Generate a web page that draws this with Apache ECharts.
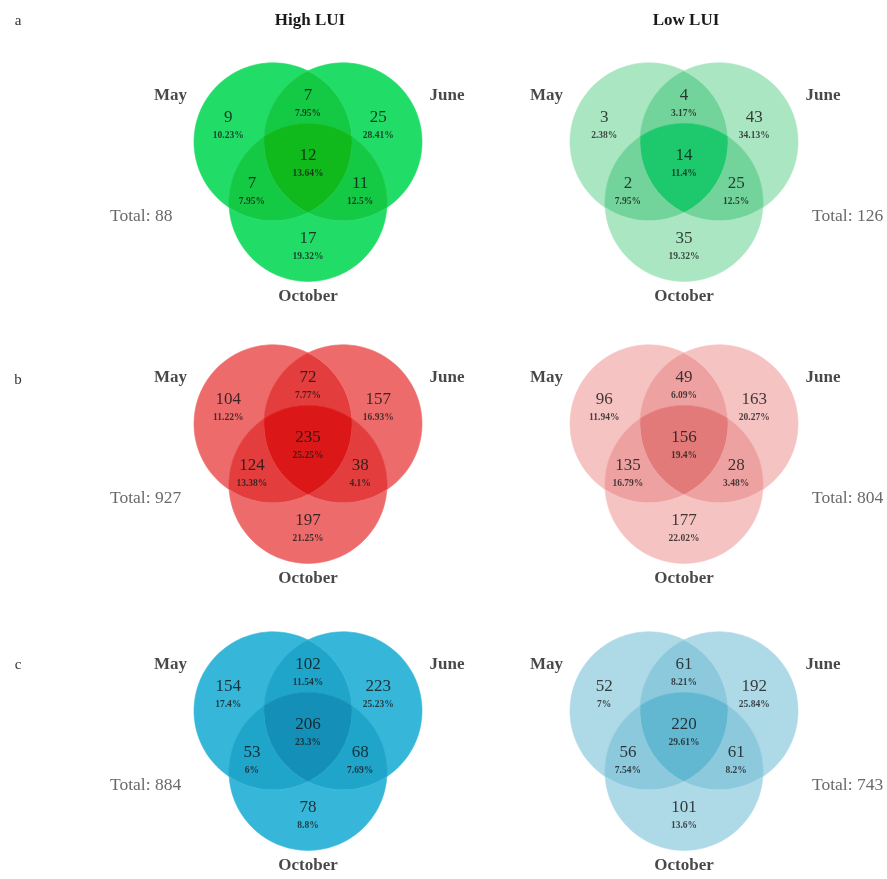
<!DOCTYPE html>
<html>
<head>
<meta charset="utf-8">
<script src="https://cdn.jsdelivr.net/npm/echarts@6/dist/echarts.min.js"></script>
<style>
  html, body { margin: 0; padding: 0; background: #ffffff; }
  #chart { width: 887px; height: 879px; }
</style>
</head>
<body>
<div id="chart"></div>
<script>
// Three-way overlap of taxa between sampling months, for high and low land-use intensity.
const setNames = ['May', 'June', 'October'];
// Region order: May only, May∩June, June only, all three, May∩October, June∩October, October only
const regionNames = ['May', 'May ∩ June', 'June', 'May ∩ June ∩ October', 'May ∩ October', 'June ∩ October', 'October'];
const regionMembership = [[1, 0, 0], [1, 1, 0], [0, 1, 0], [1, 1, 1], [1, 0, 1], [0, 1, 1], [0, 0, 1]];

const highA = [9, 7, 25, 12, 7, 11, 17];
const highAPct = ['10.23%', '7.95%', '28.41%', '13.64%', '7.95%', '12.5%', '19.32%'];
const lowA = [3, 4, 43, 14, 2, 25, 35];
const lowAPct = ['2.38%', '3.17%', '34.13%', '11.4%', '7.95%', '12.5%', '19.32%'];

const highB = [104, 72, 157, 235, 124, 38, 197];
const highBPct = ['11.22%', '7.77%', '16.93%', '25.25%', '13.38%', '4.1%', '21.25%'];
const lowB = [96, 49, 163, 156, 135, 28, 177];
const lowBPct = ['11.94%', '6.09%', '20.27%', '19.4%', '16.79%', '3.48%', '22.02%'];

const highC = [154, 102, 223, 206, 53, 68, 78];
const highCPct = ['17.4%', '11.54%', '25.23%', '23.3%', '6%', '7.69%', '8.8%'];
const lowC = [52, 61, 192, 220, 56, 61, 101];
const lowCPct = ['7%', '8.21%', '25.84%', '29.61%', '7.54%', '8.2%', '13.6%'];

const columnTitles = ['High LUI', 'Low LUI'];
const rowLetters = ['a', 'b', 'c'];

// ---- styling ----
const SERIF = '"Liberation Serif", "DejaVu Serif", serif';
// fill shades for regions covered by one, two and three sets
const palettes = {
  greenHigh: ['#22dc68', '#14c944', '#10b91c'],
  greenLow:  ['#a9e6c1', '#72d49a', '#1ec96e'],
  redHigh:   ['#ee6b6b', '#e33d3d', '#dc1717'],
  redLow:    ['#f6c3c3', '#eea1a1', '#e37a7a'],
  blueHigh:  ['#36b7d9', '#1fa4ca', '#138fb8'],
  blueLow:   ['#aed9e7', '#8cc9dd', '#63b8d1']
};

// ---- layout (in units of circle radius, y pointing up) ----
const PX = 79;                          // pixels per radius unit
const X_RANGE = [-2.6, 2.2];
const Y_RANGE = [-1.85, 1.7];
const colCenters = [308, 684];
const rowCenters = [162, 444, 731];
const side = 70 / 79;                    // distance between circle centres
const centres = [
  [-side / 2, side / (2 * Math.sqrt(3))],
  [ side / 2, side / (2 * Math.sqrt(3))],
  [0, -side / Math.sqrt(3)]
];
const regionLabelAt = [[-1.01, 0.47], [0, 0.75], [0.89, 0.47], [0, -0.01], [-0.71, -0.37], [0.66, -0.37], [0, -1.06]];
const setLabelAt = [[-1.74, 0.84], [1.76, 0.84], [0, -1.71]];
const totalLabelAt = [[-2.506, -0.69], [1.62, -0.69]];

// ---- region outlines built from arcs between circle intersection points ----
const dist = (a, b) => Math.hypot(a[0] - b[0], a[1] - b[1]);
function pairPoints(i, j) {
  const k = 3 - i - j;
  const A = centres[i], B = centres[j];
  const mx = (A[0] + B[0]) / 2, my = (A[1] + B[1]) / 2;
  const dx = B[0] - A[0], dy = B[1] - A[1];
  const d = Math.hypot(dx, dy);
  const h = Math.sqrt(1 - d * d / 4);
  const nx = -dy / d, ny = dx / d;
  const p1 = [mx + h * nx, my + h * ny], p2 = [mx - h * nx, my - h * ny];
  return dist(p1, centres[k]) < dist(p2, centres[k]) ? { I: p1, O: p2 } : { I: p2, O: p1 };
}
const p01 = pairPoints(0, 1), p02 = pairPoints(0, 2), p12 = pairPoints(1, 2);
const V = { I01: p01.I, O01: p01.O, I02: p02.I, O02: p02.O, I12: p12.I, O12: p12.O };

function arcPoints(k, A, B, mask, n) {
  const c = centres[k];
  const a0 = Math.atan2(A[1] - c[1], A[0] - c[0]);
  const a1 = Math.atan2(B[1] - c[1], B[0] - c[0]);
  let ccw = a1 - a0;
  while (ccw <= 0) ccw += 2 * Math.PI;
  while (ccw > 2 * Math.PI) ccw -= 2 * Math.PI;
  let sweep = ccw;
  for (const s of [ccw, ccw - 2 * Math.PI]) {
    const am = a0 + s / 2;
    const p = [c[0] + Math.cos(am), c[1] + Math.sin(am)];
    let ok = true;
    for (let j = 0; j < 3; j++) {
      if (j === k) continue;
      if ((dist(p, centres[j]) < 1) !== !!mask[j]) ok = false;
    }
    if (ok) { sweep = s; break; }
  }
  const pts = [];
  for (let t = 0; t < n; t++) {
    const a = a0 + sweep * t / n;
    pts.push([c[0] + Math.cos(a), c[1] + Math.sin(a)]);
  }
  return pts;
}

// each loop: [start vertex, circle followed to the next vertex]
const regionLoops = [
  [['O01', 0], ['O02', 2], ['I12', 1]],
  [['O01', 0], ['I02', 2], ['I12', 1]],
  [['O01', 1], ['O12', 2], ['I02', 0]],
  [['I01', 0], ['I02', 2], ['I12', 1]],
  [['O02', 0], ['I01', 1], ['I12', 2]],
  [['O12', 1], ['I01', 0], ['I02', 2]],
  [['O02', 2], ['O12', 1], ['I01', 0]]
];
const regionShapes = regionLoops.map((loop, r) => {
  let pts = [];
  loop.forEach((step, s) => {
    const next = loop[(s + 1) % loop.length][0];
    pts = pts.concat(arcPoints(step[1], V[step[0]], V[next], regionMembership[r], 60));
  });
  return pts;
});
const overlapLevel = regionMembership.map(m => m[0] + m[1] + m[2]);

// ---- panels ----
const panels = [
  { row: 0, col: 0, counts: highA, pcts: highAPct, palette: palettes.greenHigh },
  { row: 0, col: 1, counts: lowA,  pcts: lowAPct,  palette: palettes.greenLow },
  { row: 1, col: 0, counts: highB, pcts: highBPct, palette: palettes.redHigh },
  { row: 1, col: 1, counts: lowB,  pcts: lowBPct,  palette: palettes.redLow },
  { row: 2, col: 0, counts: highC, pcts: highCPct, palette: palettes.blueHigh },
  { row: 2, col: 1, counts: lowC,  pcts: lowCPct,  palette: palettes.blueLow }
];

const grid = [], xAxis = [], yAxis = [], series = [];
panels.forEach((p, idx) => {
  const cx = colCenters[p.col], cy = rowCenters[p.row];
  grid.push({
    left: cx + X_RANGE[0] * PX,
    top: cy - Y_RANGE[1] * PX,
    width: (X_RANGE[1] - X_RANGE[0]) * PX,
    height: (Y_RANGE[1] - Y_RANGE[0]) * PX
  });
  xAxis.push({ type: 'value', gridIndex: idx, min: X_RANGE[0], max: X_RANGE[1], show: false });
  yAxis.push({ type: 'value', gridIndex: idx, min: Y_RANGE[0], max: Y_RANGE[1], show: false });

  const palette = p.palette;
  series.push({
    type: 'custom',
    name: 'regions-' + idx,
    xAxisIndex: idx, yAxisIndex: idx,
    silent: true,
    clip: false,
    data: regionNames.map((n, r) => [0, 0, r]),
    encode: { x: 0, y: 1 },
    renderItem: function (params, api) {
      const r = api.value(2);
      const pts = regionShapes[r].map(q => api.coord(q));
      const fill = palette[overlapLevel[r] - 1];
      return {
        type: 'polygon',
        shape: { points: pts },
        style: { fill: fill, stroke: fill, lineWidth: 0.6 }
      };
    }
  });

  series.push({
    type: 'scatter',
    name: 'counts-' + idx,
    xAxisIndex: idx, yAxisIndex: idx,
    symbolSize: 0, silent: true, clip: false,
    data: p.counts.map((c, r) => ({
      value: regionLabelAt[r], count: c, pct: p.pcts[r], name: regionNames[r]
    })),
    label: {
      show: true, position: 'inside',
      formatter: d => '{c|' + d.data.count + '}\n{p|' + d.data.pct + '}',
      rich: {
        c: { fontFamily: SERIF, fontSize: 17, color: '#111111', lineHeight: 21, align: 'center' },
        p: { fontFamily: SERIF, fontSize: 9.5, fontWeight: 'bold', color: '#1a1a1a', lineHeight: 15, align: 'center' }
      }
    }
  });

  series.push({
    type: 'scatter',
    name: 'sets-' + idx,
    xAxisIndex: idx, yAxisIndex: idx,
    symbolSize: 0, silent: true, clip: false,
    data: setNames.map((n, s) => ({ value: setLabelAt[s], name: n })),
    label: {
      show: true, position: 'inside', formatter: '{b}',
      fontFamily: SERIF, fontSize: 17, fontWeight: 'bold', color: '#1a1a1a'
    }
  });

  const total = p.counts.reduce((a, b) => a + b, 0);
  series.push({
    type: 'scatter',
    name: 'total-' + idx,
    xAxisIndex: idx, yAxisIndex: idx,
    symbolSize: 0, silent: true, clip: false,
    data: [{ value: totalLabelAt[p.col], total: total }],
    label: {
      show: true, position: 'right', distance: 0,
      formatter: d => 'Total: ' + d.data.total,
      fontFamily: SERIF, fontSize: 17.5, color: '#444444'
    }
  });
});

const graphic = [];
columnTitles.forEach((t, c) => {
  graphic.push({
    type: 'text', x: colCenters[c] + 2, y: 21, silent: true,
    style: { text: t, font: 'bold 17px ' + SERIF, fill: '#1a1a1a', textAlign: 'center', textVerticalAlign: 'middle' }
  });
});
const letterY = [21, 380, 665];
rowLetters.forEach((l, r) => {
  graphic.push({
    type: 'text', x: 18, y: letterY[r], silent: true,
    style: { text: l, font: '15px ' + SERIF, fill: '#333333', textAlign: 'center', textVerticalAlign: 'middle' }
  });
});

const chart = echarts.init(document.getElementById('chart'), null, { renderer: 'canvas' });
chart.setOption({
  animation: false,
  backgroundColor: '#ffffff',
  grid: grid,
  xAxis: xAxis,
  yAxis: yAxis,
  series: series,
  graphic: graphic
});
</script>
</body>
</html>
